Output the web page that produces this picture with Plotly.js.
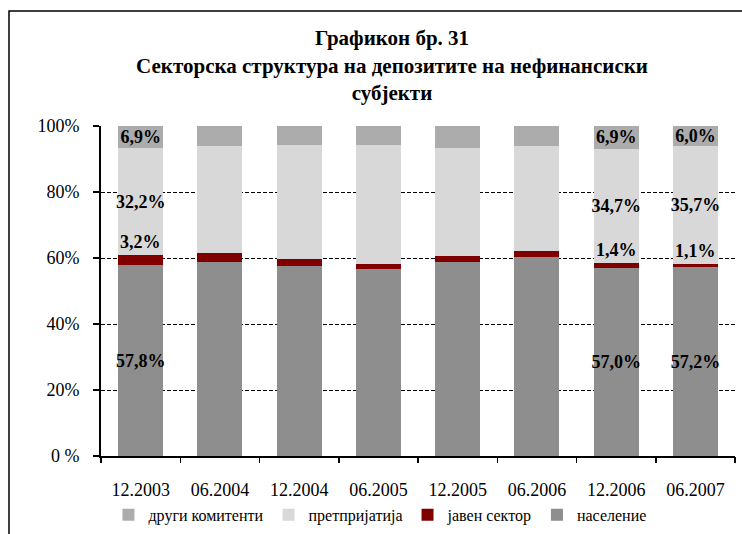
<!DOCTYPE html>
<html>
<head>
<meta charset="utf-8">
<script src="https://cdn.plot.ly/plotly-3.0.1.min.js"></script>
<style>html,body{margin:0;padding:0;background:#fff;}#chart{width:742px;height:534px;}</style>
</head>
<body>
<div id="chart"></div>
<script>
const categories = ['12.2003','06.2004','12.2004','06.2005','12.2005','06.2006','12.2006','06.2007'];
const population = [57.8, 58.8, 57.6, 56.7, 58.8, 60.3, 57.0, 57.2];
const publicSector = [3.2, 2.7, 2.1, 1.6, 1.8, 1.8, 1.4, 1.1];
const enterprises = [32.2, 32.4, 34.5, 35.9, 32.7, 31.8, 34.7, 35.7];
const others = [6.9, 6.1, 5.8, 5.8, 6.7, 6.1, 6.9, 6.0];
const labelled = [true, false, false, false, false, false, true, true];
const seriesNames = ['население', 'јавен сектор', 'претпријатија', 'други комитенти'];
const yTicks = [0, 20, 40, 60, 80, 100];
const yTickText = ['0 %', '20%', '40%', '60%', '80%', '100%'];

const fmt = v => v.toFixed(1).replace('.', ',') + '%';
const txt = arr => arr.map((v, i) => labelled[i] ? fmt(v) : '');
const serif = '"Liberation Serif", "Times New Roman", serif';
const labFont = {family: serif, size: 18, color: '#000'};
const idx = categories.map((c, i) => i);

function bar(y, name, color, withText) {
  return {
    type: 'bar', x: idx, y: y, name: name,
    marker: {color: color, line: {width: 0}},
    text: withText ? txt(y) : undefined,
    texttemplate: withText ? '<b>%{text}</b>' : undefined,
    textposition: withText ? 'inside' : 'none',
    insidetextanchor: 'middle',
    textangle: 0,
    constraintext: 'none',
    textfont: labFont,
    hoverinfo: 'skip'
  };
}

const traces = [
  bar(population, seriesNames[0], '#8e8e8e', true),
  bar(publicSector, seriesNames[1], '#800000', false),
  bar(enterprises, seriesNames[2], '#d8d8d8', true),
  bar(others, seriesNames[3], '#acacac', true)
];

const annotations = [];
idx.forEach(i => {
  if (labelled[i]) {
    annotations.push({
      x: i, y: population[i] + publicSector[i], xref: 'x', yref: 'y',
      text: '<b>' + fmt(publicSector[i]) + '</b>', showarrow: false,
      yanchor: 'bottom', yshift: 1, font: {family: serif, size: 18, color: '#000'}
    });
  }
});

const layout = {
  width: 742, height: 534,
  margin: {l: 101, r: 7, t: 126, b: 78},
  paper_bgcolor: '#fff', plot_bgcolor: '#fff',
  barmode: 'stack', bargap: 0.43,
  showlegend: true,
  title: {
    text: '<b>Графикон бр. 31<br>Секторска структура на депозитите на нефинансиски<br>субјекти</b>',
    font: {family: serif, size: 21, color: '#000'},
    x: 0.459, xref: 'paper', xanchor: 'center',
    y: 0.915, yref: 'container', yanchor: 'top'
  },
  xaxis: {
    type: 'linear', range: [-0.5, 7.5],
    tickmode: 'array', tickvals: idx, ticktext: categories, tickangle: 0,
    showline: true, linecolor: '#000', linewidth: 2,
    ticks: '', ticklabelstandoff: 16,
    showgrid: false, zeroline: false, fixedrange: true, automargin: false,
    tickfont: {family: serif, size: 18, color: '#000'}
  },
  xaxis2: {
    overlaying: 'x', matches: 'x', range: [-0.5, 7.5],
    tickmode: 'array', tickvals: idx.concat([7]).map(i => i - 0.5).concat([7.5]),
    showticklabels: false, ticks: 'outside', ticklen: 6, tickcolor: '#000', tickwidth: 1.5,
    showgrid: false, zeroline: false, showline: false, anchor: 'y', side: 'bottom'
  },
  yaxis: {
    range: [0, 100],
    tickvals: yTicks, ticktext: yTickText,
    showline: true, linecolor: '#000', linewidth: 2,
    ticks: 'outside', ticklen: 6, tickcolor: '#000', tickwidth: 1.5,
    ticklabelstandoff: 10, automargin: false,
    tickfont: {family: serif, size: 18, color: '#000'},
    showgrid: true, gridcolor: '#000', gridwidth: 1, griddash: '4px,2px',
    zeroline: false, fixedrange: true
  },
  legend: {
    orientation: 'h', traceorder: 'reversed',
    x: 0.44, xanchor: 'center', xref: 'paper',
    y: 0.036, yanchor: 'middle', yref: 'container',
    font: {family: serif, size: 16, color: '#000'},
    itemwidth: 30, bgcolor: 'rgba(0,0,0,0)'
  },
  annotations: annotations,
  shapes: [{
    type: 'rect', xref: 'paper', yref: 'paper',
    x0: -0.1451, x1: 1.2, y0: -0.6, y1: 1.3485,
    line: {color: '#000', width: 1.5}, fillcolor: 'rgba(0,0,0,0)', layer: 'below'
  }]
};

// invisible trace to activate xaxis2 (tick marks between categories)
traces.push({type: 'scatter', x: [0], y: [0], xaxis: 'x2', yaxis: 'y', mode: 'markers',
  marker: {opacity: 0}, showlegend: false, hoverinfo: 'skip'});

Plotly.newPlot('chart', traces, layout, {displayModeBar: false, staticPlot: true});
</script>
</body>
</html>
